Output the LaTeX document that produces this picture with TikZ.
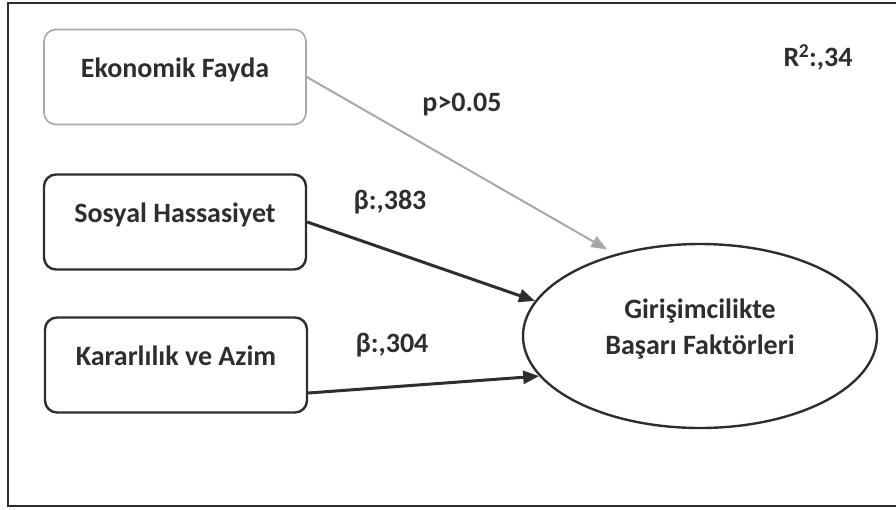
\documentclass[tikz,border=0pt]{standalone}
\usepackage{fontspec}
\setmainfont{Carlito}
\usetikzlibrary{positioning,shapes,arrows.meta,calc}
\definecolor{ink}{HTML}{2E2E2E}
\definecolor{faded}{HTML}{A8A8A8}

\begin{document}
\begin{tikzpicture}[x=1pt, y=-1pt,
    factorbox/.style={draw=ink, line width=2.4pt, rounded corners=12pt,
        minimum width=262pt, minimum height=95pt, inner sep=0pt,
        text height=18pt, text depth=18pt, font=\fontsize{28}{34}\selectfont\bfseries, text=ink},
    coeff/.style={font=\fontsize{28}{34}\selectfont\bfseries, text=ink, inner sep=0pt},
    sigline/.style={draw=ink, line width=3pt, -{Triangle[length=16pt, width=13pt]}},
    nsline/.style={draw=faded, line width=2pt, -{Triangle[length=16pt, width=12pt]}}]

    \useasboundingbox (0,0) rectangle (896,509);

    % Frame
    \draw[ink, line width=2pt] (897,3) -- (8,3) -- (8,506) -- (897,506);

    % Predictors
    \node[factorbox, draw=faded, line width=1.6pt] (eko) at (175,77) {Ekonomik Fayda};
    \node[factorbox] (sos) at (175,222) {Sosyal Hassasiyet};
    \node[factorbox] (kar) at (176,365) {Kararlılık ve Azim};

    % Outcome
    \node[draw=ink, line width=2.4pt, ellipse, minimum width=354pt, minimum height=184pt,
        inner sep=0pt] (gbf) at (700,336) {};
    \node[coeff, align=center] (gbftext) at (700,329)
        {Girişimcilikte\\[2pt]Başarı Faktörleri};

    % Paths
    \draw[nsline, shorten >=9pt] (eko.east) -- (gbf.136.6);
    \draw[sigline] (sos.east) -- (gbf.168);
    \draw[sigline] ([yshift=-28pt]kar.east) -- (gbf.194);

    % Coefficients
    \node[coeff] (pval) at (462,105) {p>0.05};
    \node[coeff] (bsos) at (390,202) {β:,383};
    \node[coeff] (bkar) at (392,345) {β:,304};
    \node[coeff] (rsq) at (818,57) {R\textsuperscript{\kern-0.5pt 2}:,34};
\end{tikzpicture}
\end{document}
